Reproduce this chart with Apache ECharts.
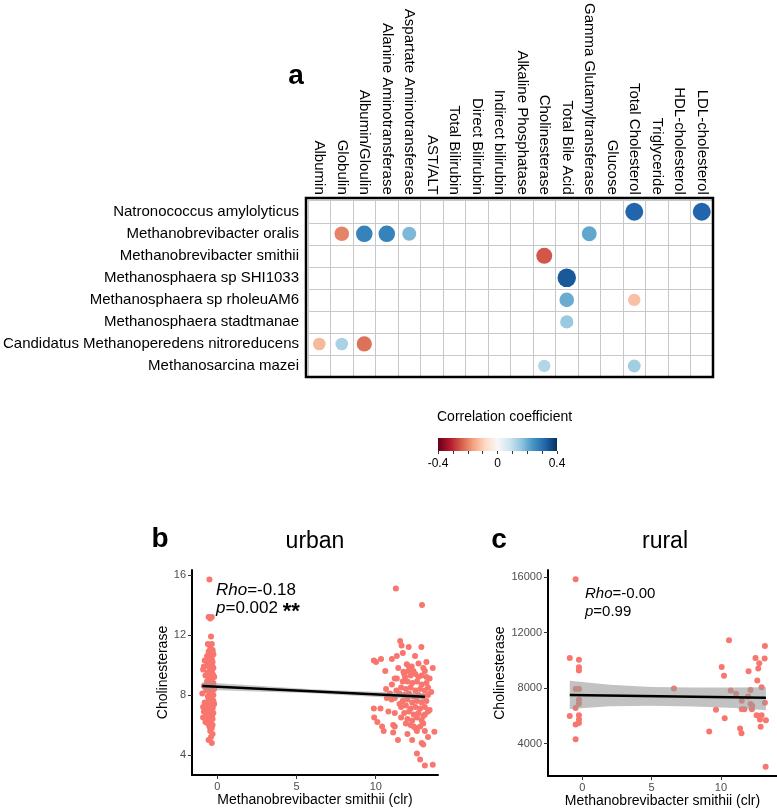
<!DOCTYPE html>
<html><head><meta charset="utf-8">
<script src="https://cdn.jsdelivr.net/npm/echarts@6/dist/echarts.min.js"></script>
<style>html,body{margin:0;padding:0;background:#fff}#c{width:777px;height:809px}</style>
</head><body><div id="c"></div>
<script>
const FONT = '"Liberation Sans", Arial, Helvetica, sans-serif';

// ---- panel a: correlation matrix ----
const markers = ['Albumin','Globulin','Albumin/Gloulin','Alanine Aminotransferase','Aspartate Aminotransferase','AST/ALT','Total Bilirubin','Direct Bilirubin','Indirect bilirubin','Alkaline Phosphatase','Cholinesterase','Total Bile Acid','Gamma Glutamyltransferase','Glucose','Total Cholesterol','Triglyceride','HDL-cholesterol','LDL-cholesterol'];
const taxa = ['Natronococcus amylolyticus','Methanobrevibacter oralis','Methanobrevibacter smithii','Methanosphaera sp SHI1033','Methanosphaera sp rholeuAM6','Methanosphaera stadtmanae','Candidatus Methanoperedens nitroreducens','Methanosarcina mazei'];
const corrTaxon = ['Natronococcus amylolyticus','Natronococcus amylolyticus',
  'Methanobrevibacter oralis','Methanobrevibacter oralis','Methanobrevibacter oralis','Methanobrevibacter oralis','Methanobrevibacter oralis',
  'Methanobrevibacter smithii','Methanosphaera sp SHI1033',
  'Methanosphaera sp rholeuAM6','Methanosphaera sp rholeuAM6','Methanosphaera stadtmanae',
  'Candidatus Methanoperedens nitroreducens','Candidatus Methanoperedens nitroreducens','Candidatus Methanoperedens nitroreducens',
  'Methanosarcina mazei','Methanosarcina mazei'];
const corrMarker = ['Total Cholesterol','LDL-cholesterol',
  'Globulin','Albumin/Gloulin','Alanine Aminotransferase','Aspartate Aminotransferase','Gamma Glutamyltransferase',
  'Cholinesterase','Total Bile Acid',
  'Total Bile Acid','Total Cholesterol','Total Bile Acid',
  'Albumin','Globulin','Albumin/Gloulin',
  'Cholinesterase','Total Cholesterol'];
const corrRho = [0.32,0.32, -0.2,0.27,0.27,0.18,0.21, -0.25,0.34, 0.2,-0.12,0.15, -0.13,0.13,-0.22, 0.12,0.14];
const rdbu = ['#67001f','#b2182b','#d6604d','#f4a582','#fddbc7','#f7f7f7','#d1e5f0','#92c5de','#4393c3','#2166ac','#053061'];
const cbTicks = [-0.4,-0.3,-0.2,-0.1,0,0.1,0.2,0.3,0.4];
const cbLabels = [-0.4,0,0.4];

// ---- panel b: urban ----
const urbanPoints = [
[-0.5,15.7],[-0.55,13.2],[-0.35,13.2],[-0.45,13.1],[-0.4,11.9],[-0.6,11.4],[-0.35,11.4],[-0.45,11.1],[-0.3,11.0],[-0.55,10.9],
[-0.4,10.8],[-0.25,10.7],[-0.65,10.6],[-0.5,10.5],[-0.35,10.4],[-0.8,10.3],[-0.45,10.3],[-0.3,10.2],[-0.6,10.1],[-0.4,10.0],
[-0.85,9.9],[-0.55,9.9],[-0.25,9.8],[-0.45,9.7],[-0.9,9.7],[-0.35,9.6],[-0.6,9.5],[-0.3,9.4],[-0.5,9.4],[-0.75,9.3],
[-0.4,9.2],[-0.2,9.2],[-0.55,9.1],[-0.35,9.0],[-0.65,8.9],[-0.45,8.9],[-0.25,8.8],[-0.5,8.7],[-0.85,8.6],[-0.3,8.6],
[-0.6,8.5],[-0.4,8.4],[-0.2,8.4],[-0.7,8.3],[-0.5,8.2],[-0.35,8.2],[-0.95,8.1],[-0.45,8.0],[-0.25,8.0],[-0.6,7.9],
[-0.4,7.8],[-0.3,7.7],[-0.55,7.6],[-0.8,7.5],[-0.45,7.5],[-0.2,7.4],[-0.65,7.3],[-0.35,7.3],[-0.9,7.2],[-0.5,7.2],
[-0.3,7.1],[-0.6,7.0],[-0.4,6.9],[-0.85,6.9],[-0.25,6.8],[-0.5,6.8],[-0.7,6.7],[-0.35,6.6],[-0.55,6.5],[-0.9,6.5],
[-0.3,6.4],[-0.45,6.3],[-0.75,6.2],[-0.4,6.2],[-0.6,6.1],[-0.3,6.0],[-0.5,5.9],[-0.35,5.8],[-0.45,5.6],[-0.3,5.4],
[-0.4,5.2],[-0.55,5.0],[-0.35,4.8],[-0.45,10.6],[-0.3,10.9],[-0.5,9.0],[-0.4,8.6],[-0.3,8.3],[-0.55,7.9],[-0.25,7.6],
[-0.45,7.0],[-0.35,6.6],[-0.6,6.9],[-0.3,9.9],[-0.4,9.5],[-0.5,10.0],[-0.35,8.8],[-0.25,9.3],[-0.45,8.1],[-0.3,7.2],
[11.27,15.1],[12.92,14.0],[11.54,11.6],[11.63,11.3],[12.08,11.2],[12.88,11.2],[11.71,10.8],[12.48,10.6],[9.88,10.3],[10.02,10.2],
[10.33,10.4],[11.02,10.4],[11.33,10.6],[11.96,10.05],[12.27,9.9],[11.42,9.8],[11.75,9.55],[12.06,9.6],[12.38,9.6],[13.0,9.8],
[13.1,9.6],[11.33,9.1],[11.85,9.2],[12.69,9.2],[13.6,9.8],[10.65,8.4],[11.02,8.7],[11.2,9.1],[10.7,7.8],[11.0,7.7],
[11.2,7.8],[9.88,7.1],[10.3,7.1],[9.9,6.5],[10.1,6.2],[10.4,5.9],[10.5,5.6],[11.1,6.0],[11.2,5.9],[11.1,5.5],
[11.4,5.0],[11.2,6.8],[11.9,6.1],[12.3,5.0],[12.5,5.8],[12.8,5.9],[13.0,6.1],[13.1,5.6],[12.9,4.8],[12.6,4.1],
[12.8,3.7],[13.1,3.3],[13.1,6.7],[13.7,5.55],[13.0,4.7],[13.6,3.35],[11.8,9.4],[12.2,9.3],[12.5,9.4],[12.9,9.3],
[13.2,9.2],[11.7,8.9],[12.0,8.9],[12.3,8.8],[12.6,8.9],[12.9,8.7],[13.2,8.8],[11.6,8.5],[11.9,8.4],[12.2,8.5],
[12.5,8.3],[12.8,8.4],[13.1,8.3],[13.3,8.5],[11.5,8.1],[11.8,8.0],[12.1,8.1],[12.4,7.9],[12.7,8.0],[13.0,7.9],
[13.3,8.0],[11.7,7.6],[12.0,7.7],[12.3,7.5],[12.6,7.6],[12.9,7.5],[13.2,7.6],[11.6,7.2],[11.9,7.3],[12.2,7.1],
[12.5,7.2],[12.8,7.1],[13.1,7.2],[11.8,6.8],[12.1,6.9],[12.4,6.7],[12.7,6.8],[13.0,6.6],[13.3,6.9],[12.0,6.4],
[12.3,6.3],[12.6,6.5],[12.9,6.3],[12.2,6.0],[12.6,5.6],[13.3,5.2],[11.6,6.5],[12.0,5.4],[12.4,5.9],[11.3,8.3],
[10.9,8.1],[11.5,7.4],[10.8,6.9],[12.7,10.1],[13.2,10.2],[12.1,9.9],[10.6,9.6],[13.4,7.0],[13.5,8.2],[13.4,9.1]
];
const urbanFitX = [-0.95, 13.1];
const urbanFitY = [8.6, 7.89];
const urbanBandX  = [-0.95, 3, 6, 9, 11.5, 13.1];
const urbanBandHi = [8.85, 8.58, 8.38, 8.25, 8.16, 8.11];
const urbanBandLo = [8.35, 8.22, 8.12, 7.93, 7.78, 7.67];
const urbanYTicks = [4, 8, 12, 16];

// ---- panel c: rural ----
const ruralPoints = [
[-0.48,15860],[-0.9,10180],[-0.24,10040],[-0.24,9510],[-0.24,9270],[-0.48,7930],[-0.24,7930],[-0.24,7160],[-0.24,6870],[-0.48,6560],
[-0.9,5990],[-0.24,6040],[-0.24,5730],[-0.48,5370],[-0.24,5490],[-0.48,4310],
[6.61,7980],[10.58,11450],[10.05,9530],[10.22,8890],[9.64,6440],[10.27,5820],[9.15,4860],[10.70,7830],[11.09,7590],[11.50,7090],
[11.50,6470],[11.69,6470],[11.38,5080],[11.48,4740],[11.99,9220],[12.13,7860],[11.96,7400],[12.13,6850],[12.25,6730],[12.23,6470],
[12.49,10180],[13.15,10130],[12.76,9800],[12.69,9410],[12.62,8550],[13.17,11040],[12.93,8070],[13.17,6950],[12.57,6040],[12.76,5990],
[12.93,6040],[12.81,5730],[13.24,5680],[12.86,5220],[13.22,2320]
];
const ruralFitX = [-0.9, 13.24];
const ruralFitY = [7500, 7306];
const ruralBandX  = [-0.9, 2, 5, 8, 11, 13.24];
const ruralBandHi = [8530, 8250, 8080, 8050, 8040, 8070];
const ruralBandLo = [6490, 6700, 6720, 6680, 6560, 6400];
const ruralYTicks = [4000, 8000, 12000, 16000];
const xTicks = [0, 5, 10];

const chart = echarts.init(document.getElementById('c'), null, {renderer: 'canvas'});

function valueAxis(grid, min, max, ticks, name, gap, extra) {
  return Object.assign({
    type: 'value', gridIndex: grid, min: min, max: max,
    name: name, nameLocation: 'middle', nameGap: gap,
    nameTextStyle: {fontSize: 14, color: '#000', fontFamily: FONT},
    axisLine: {show: true, onZero: false, lineStyle: {color: '#000', width: 2}},
    axisTick: {show: true, length: 4, lineStyle: {color: '#333', width: 1}, customValues: ticks},
    axisLabel: {customValues: ticks, fontSize: 11, color: '#4d4d4d', fontFamily: FONT, margin: 6,
      formatter: v => String(v)},
    splitLine: {show: false}
  }, extra || {});
}
function band(idx, bx, hi, lo, fill) {
  return {
    type: 'custom', xAxisIndex: idx, yAxisIndex: idx, z: 4, silent: true,
    data: [[bx[0], lo[0]]],
    renderItem: function (p, api) {
      const up = bx.map((x, i) => api.coord([x, hi[i]]));
      const dn = bx.map((x, i) => api.coord([x, lo[i]])).reverse();
      return {type: 'polygon', shape: {points: up.concat(dn)}, style: {fill: fill}};
    }
  };
}
function fit(idx, fx, fy) {
  return {type: 'line', xAxisIndex: idx, yAxisIndex: idx, z: 5, silent: true, showSymbol: false,
    data: fx.map((x, i) => [x, fy[i]]), lineStyle: {color: '#000', width: 2.5}};
}
function txt(x, y, text, size, opts) {
  return Object.assign({type: 'text', x: x, y: y, z: 50,
    style: Object.assign({text: text, fontSize: size, fontFamily: FONT, fill: '#000', align: 'center', verticalAlign: 'middle'}, opts || {})});
}

const gridA = {left: 306, top: 198, width: 407, height: 179};
const cbBar = {left: 438, top: 438, width: 119, height: 13};

const option = {
  animation: false,
  backgroundColor: '#fff',
  grid: [
    gridA,
    {left: 192, top: 570, width: 246, height: 205},
    {left: 548, top: 570, width: 229, height: 207},
    cbBar
  ],
  visualMap: {type: 'continuous', show: false, seriesIndex: 0, dimension: 2, min: -0.4, max: 0.4, inRange: {color: rdbu}},
  xAxis: [
    {type: 'category', gridIndex: 0, position: 'top', data: markers,
      axisLine: {show: false}, axisTick: {show: false},
      axisLabel: {rotate: 90, margin: 6, fontSize: 15, color: '#000', fontFamily: FONT, interval: 0},
      splitLine: {show: true, interval: 0, lineStyle: {color: '#c8c8c8', width: 1}}},
    valueAxis(1, -1.6, 13.93, xTicks, 'Methanobrevibacter smithii (clr)', 16),
    valueAxis(2, -2.47, 14.04, xTicks, 'Methanobrevibacter smithii (clr)', 17),
    {type: 'value', gridIndex: 3, min: -0.4, max: 0.4,
      axisLine: {show: false},
      axisTick: {show: true, length: 3, inside: false, customValues: cbTicks, lineStyle: {color: '#333', width: 1}},
      axisLabel: {customValues: cbLabels, fontSize: 12, color: '#000', fontFamily: FONT, margin: 7,
        formatter: v => (Math.abs(v) < 1e-9 ? '0' : v.toFixed(1))},
      splitLine: {show: false}}
  ],
  yAxis: [
    {type: 'category', gridIndex: 0, data: taxa, inverse: true,
      axisLine: {show: false}, axisTick: {show: false},
      axisLabel: {margin: 9, fontSize: 15, color: '#000', fontFamily: FONT, interval: 0},
      splitLine: {show: true, interval: 0, lineStyle: {color: '#c8c8c8', width: 1}}},
    valueAxis(1, 2.667, 16.333, urbanYTicks, 'Cholinesterase', 21),
    valueAxis(2, 1650, 16525, ruralYTicks, 'Cholinesterase', 39),
    {type: 'value', gridIndex: 3, show: false, min: 0, max: 1}
  ],
  series: [
    {type: 'scatter', xAxisIndex: 0, yAxisIndex: 0, z: 3,
      data: corrRho.map((r, i) => [corrMarker[i], corrTaxon[i], r]),
      symbolSize: v => 9 + Math.abs(v[2]) * 28,
      itemStyle: {opacity: 1}},
    {type: 'scatter', xAxisIndex: 1, yAxisIndex: 1, z: 3, data: urbanPoints, symbolSize: 6,
      itemStyle: {color: '#F8766D', opacity: 1}},
    band(1, urbanBandX, urbanBandHi, urbanBandLo, 'rgba(153,153,153,0.55)'),
    fit(1, urbanFitX, urbanFitY),
    {type: 'scatter', xAxisIndex: 2, yAxisIndex: 2, z: 3, data: ruralPoints, symbolSize: 6,
      itemStyle: {color: '#F8766D', opacity: 1}},
    band(2, ruralBandX, ruralBandHi, ruralBandLo, 'rgba(153,153,153,0.6)'),
    fit(2, ruralFitX, ruralFitY)
  ],
  graphic: [
    {type: 'rect', z: 40, silent: true,
      shape: {x: gridA.left, y: gridA.top, width: gridA.width, height: gridA.height},
      style: {fill: null, stroke: '#000', lineWidth: 2.5}},
    {type: 'rect', z: 40, silent: true,
      shape: {x: cbBar.left, y: cbBar.top, width: cbBar.width, height: cbBar.height},
      style: {fill: new echarts.graphic.LinearGradient(0, 0, 1, 0,
        rdbu.map((c, i) => ({offset: i / (rdbu.length - 1), color: c})))}},
    txt(437, 417, 'Correlation coefficient', 14, {align: 'left'}),
    txt(296, 76, 'a', 28, {fontWeight: 'bold'}),
    txt(160, 539, 'b', 28, {fontWeight: 'bold'}),
    txt(315, 542, 'urban', 23),
    txt(499, 540, 'c', 28, {fontWeight: 'bold'}),
    txt(665, 542, 'rural', 23),
    txt(216, 590.7, '{i|Rho}=-0.18', 17, {align: 'left', rich: {i: {fontStyle: 'italic', fontSize: 17, fontFamily: FONT}}}),
    txt(216, 608.5, '{i|p}=0.002 {s|**}', 17, {align: 'left', rich: {i: {fontStyle: 'italic', fontSize: 17, fontFamily: FONT}, s: {fontWeight: 'bold', fontSize: 22, fontFamily: FONT, padding: [6, 0, 0, 0]}}}),
    txt(585, 594, '{i|Rho}=-0.00', 15, {align: 'left', rich: {i: {fontStyle: 'italic', fontSize: 15, fontFamily: FONT}}}),
    txt(585, 612, '{i|p}=0.99', 15, {align: 'left', rich: {i: {fontStyle: 'italic', fontSize: 15, fontFamily: FONT}}})
  ]
};
chart.setOption(option);
</script>
</body></html>
